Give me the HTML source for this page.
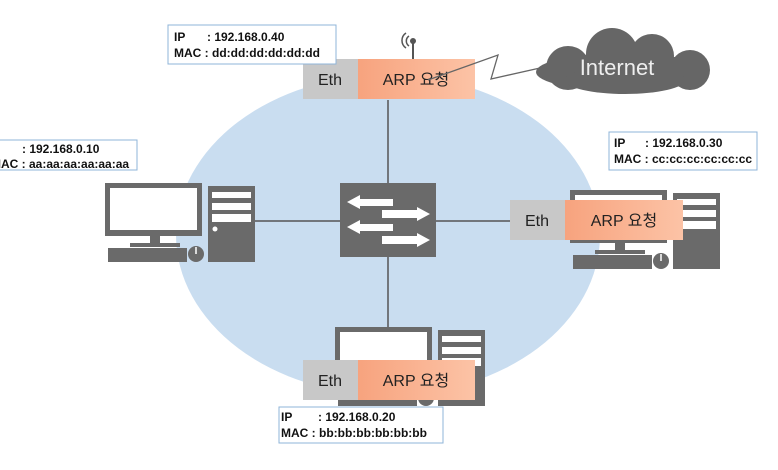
<!DOCTYPE html>
<html><head><meta charset="utf-8"><style>
body{margin:0;background:#fff;width:778px;height:465px;overflow:hidden}
svg text{font-family:"Liberation Sans","Noto Sans CJK KR",sans-serif}
</style></head><body>
<svg width="778" height="465" viewBox="0 0 778 465" xmlns="http://www.w3.org/2000/svg">
<defs>
<linearGradient id="og" x1="0" x2="1"><stop offset="0" stop-color="#f7a37e"/><stop offset="1" stop-color="#fcc3a6"/></linearGradient>
<g id="pc">
 <rect x="0" y="0" width="97" height="53" fill="#6a6a6a"/>
 <rect x="5" y="5" width="87" height="42" fill="#fff"/>
 <rect x="45" y="53" width="10" height="7" fill="#6a6a6a"/>
 <rect x="25" y="60" width="50" height="4" fill="#6a6a6a"/>
 <rect x="3" y="65" width="79" height="14" fill="#6a6a6a"/>
 <circle cx="91" cy="71" r="8" fill="#6a6a6a"/>
 <line x1="91" y1="64" x2="91" y2="71" stroke="#fff" stroke-width="1.5"/>
 <rect x="103" y="3" width="47" height="76" fill="#6a6a6a"/>
 <rect x="107" y="9" width="39" height="6" fill="#fff"/>
 <rect x="107" y="20" width="39" height="7" fill="#fff"/>
 <rect x="107" y="31" width="39" height="8" fill="#fff"/>
 <circle cx="110" cy="46" r="2.5" fill="#fff"/>
</g>
</defs>
<ellipse cx="388" cy="235" rx="212" ry="160" fill="#c9ddf0"/>
<line x1="388" y1="100" x2="388" y2="340" stroke="#555" stroke-width="1.5"/>
<line x1="250" y1="221" x2="515" y2="221" stroke="#555" stroke-width="1.5"/>
<use href="#pc" x="105" y="183"/>
<use href="#pc" x="570" y="190"/>
<use href="#pc" x="335" y="327"/>
<!-- switch -->
<rect x="340" y="183" width="96" height="74" fill="#6a6a6a"/>
<g fill="#fff">
 <polygon points="347,202 360,195 360,199 393,199 393,206 360,206 360,209"/>
 <polygon points="430,214 417,207 417,210 382,210 382,218 417,218 417,221"/>
 <polygon points="347,227 360,220 360,224 393,224 393,231 360,231 360,234"/>
 <polygon points="430,240 417,233 417,236 382,236 382,244 417,244 417,247"/>
</g>
<!-- antenna -->
<line x1="413" y1="42" x2="413" y2="59" stroke="#555" stroke-width="2"/>
<circle cx="413" cy="41" r="3" fill="#555"/>
<path d="M409 36 a6 6 0 0 0 0 10 M406 33 a9 9 0 0 0 0 15" fill="none" stroke="#555" stroke-width="1.5"/>
<!-- cloud -->
<g fill="#666">
 <ellipse cx="622" cy="72" rx="86" ry="19"/>
 <circle cx="568" cy="68" r="22"/><circle cx="612" cy="54" r="26"/><circle cx="652" cy="56" r="22"/><circle cx="690" cy="70" r="20"/>
 <ellipse cx="625" cy="80" rx="60" ry="14"/>
</g>
<text x="617" y="75" font-size="22" fill="#eee" text-anchor="middle">Internet</text>
<!-- packets -->
<g font-size="16" fill="#222">
 <rect x="303" y="59" width="55" height="40" fill="#c8c8c8"/><rect x="358" y="59" width="117" height="40" fill="url(#og)"/>
 <text x="330" y="85" text-anchor="middle">Eth</text><text x="416" y="85" text-anchor="middle">ARP 요청</text>
 <rect x="510" y="200" width="55" height="40" fill="#c8c8c8"/><rect x="565" y="200" width="118" height="40" fill="url(#og)"/>
 <text x="537" y="226" text-anchor="middle">Eth</text><text x="624" y="226" text-anchor="middle">ARP 요청</text>
 <rect x="303" y="360" width="55" height="40" fill="#c8c8c8"/><rect x="358" y="360" width="117" height="40" fill="url(#og)"/>
 <text x="330" y="386" text-anchor="middle">Eth</text><text x="416" y="386" text-anchor="middle">ARP 요청</text>
</g>
<polyline points="428,80 498,55 491,79 540,68" fill="none" stroke="#666" stroke-width="1.3"/>
<!-- info boxes -->
<g font-size="12" font-weight="bold" fill="#111">
 <rect x="168" y="25" width="168" height="39" fill="#fff" stroke="#8fb4d8"/>
 <text x="174" y="41">IP</text><text x="207" y="41">: 192.168.0.40</text>
 <text x="174" y="57">MAC : dd:dd:dd:dd:dd:dd</text>
 <rect x="-5" y="140" width="142" height="30" fill="#fff" stroke="#8fb4d8"/>
 <text x="22" y="153">: 192.168.0.10</text>
 <text x="-9" y="168">MAC : aa:aa:aa:aa:aa:aa</text>
 <rect x="609" y="132" width="148" height="38" fill="#fff" stroke="#8fb4d8"/>
 <text x="614" y="147">IP</text><text x="645" y="147">: 192.168.0.30</text>
 <text x="614" y="163">MAC : cc:cc:cc:cc:cc:cc</text>
 <rect x="279" y="407" width="164" height="36" fill="#fff" stroke="#8fb4d8"/>
 <text x="281" y="421">IP</text><text x="318" y="421">: 192.168.0.20</text>
 <text x="281" y="437">MAC : bb:bb:bb:bb:bb:bb</text>
</g>
</svg>
</body></html>
